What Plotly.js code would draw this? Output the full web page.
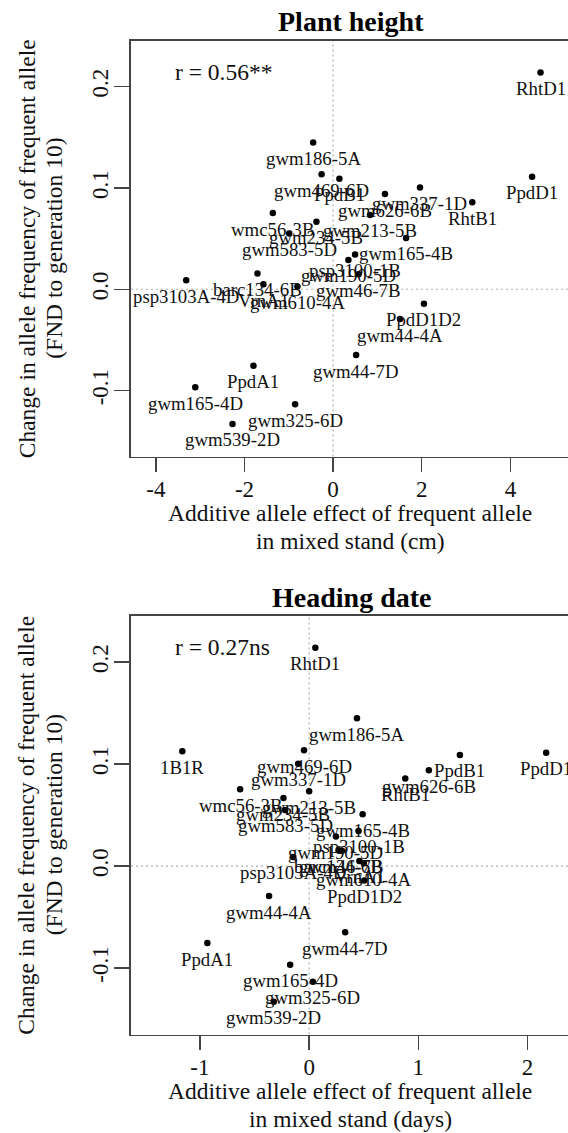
<!DOCTYPE html>
<html>
<head>
<meta charset="utf-8">
<script src="https://cdn.plot.ly/plotly-3.0.1.min.js"></script>
<style>
html,body{margin:0;padding:0;background:#fff;overflow:hidden;}
#chart{width:568px;height:1133px;}
</style>
</head>
<body>
<div id="chart"></div>
<script>
// ---- data ----
const markers = ["RhtD1","gwm186-5A","gwm469-6D","PpdB1","gwm337-1D","PpdD1","gwm626-6B","RhtB1",
  "wmc56-3B","gwm213-5B","gwm234-5B","gwm583-5D","gwm165-4B","psp3100-1B","gwm190-5D","gwm46-7B",
  "barc134-6B","psp3103A-4D","VrnA1","gwm610-4A","PpdD1D2","gwm44-4A","gwm44-7D","PpdA1",
  "gwm165-4D","gwm325-6D","gwm539-2D","1B1R"];
// change in allele frequency of frequent allele (FND to generation 10)
const freqChange = [0.214,0.145,0.1135,0.109,0.1004,0.111,0.094,0.0858,
  0.0752,0.0734,0.0667,0.055,0.0507,0.0344,0.029,0.0149,
  0.0156,0.0089,0.005,0.0028,-0.0142,-0.0294,-0.0649,-0.0755,
  -0.0968,-0.1135,-0.133,0.1126];
// additive allele effect in mixed stand: plant height (cm); 1B1R not shown
const heightEffect = [4.68,-0.45,-0.26,0.142,1.96,4.49,1.17,3.14,
  -1.36,0.834,-0.376,-0.99,1.646,0.496,0.345,0.57,
  -1.707,-3.315,-1.572,-0.805,2.05,1.51,0.52,-1.797,
  -3.11,-0.857,-2.27,null];
// additive allele effect in mixed stand: heading date (days)
const headingEffect = [0.057,0.438,-0.047,1.38,-0.10,2.17,1.096,0.88,
  -0.632,0.0,-0.235,-0.22,0.49,0.452,0.245,0.30,
  0.27,-0.145,0.46,0.50,0.505,-0.367,0.33,-0.932,
  -0.174,0.034,-0.324,-1.161];
const heightTicks = [-4,-2,0,2,4];
const headingTicks = [-1,0,1,2];
const yTicks = [-0.1,0.0,0.1,0.2];
const yTickText = ["-0.1","0.0","0.1","0.2"];
const panelTitles = ["Plant height","Heading date"];
const rTexts = ["r = 0.56**","r = 0.27ns"];
const xTitles = [["Additive allele effect of frequent allele","in mixed stand (cm)"],
                 ["Additive allele effect of frequent allele","in mixed stand (days)"]];
const yTitle = ["Change in allele frequency of frequent allele","(FND to generation 10)"];

// ---- layout helpers ----
const W = 568, H = 1133, L = 131;
const PW = W - L;
const px2x = p => (p - L) / PW;
const px2y = p => 1 - p / H;
const FONT = '"Liberation Serif","Times New Roman",Times,serif';
const INK = '#111';
const LINE = '#444';

const panels = [
  {xa:'x', ya:'y', xk:'xaxis', yk:'yaxis', xs:heightEffect, top:40.9, bot:456.6,
   xr:[-4.56,5.30], ticks:heightTicks},
  {xa:'x2', ya:'y2', xk:'xaxis2', yk:'yaxis2', xs:headingEffect, top:616, bot:1034.5,
   xr:[-1.631,2.370], ticks:headingTicks}
];

const traces = [];
const annotations = [];
const shapes = [];
const layout = {
  width:W, height:H,
  margin:{l:L, r:0, t:0, b:0, pad:0},
  paper_bgcolor:'#fff', plot_bgcolor:'#fff',
  showlegend:false,
  font:{family:FONT, color:INK, size:23},
};

panels.forEach((p, k) => {
  const xs = [], ys = [], labs = [];
  markers.forEach((m, i) => {
    if (p.xs[i] === null) return;
    xs.push(p.xs[i]); ys.push(freqChange[i]); labs.push(m);
  });
  traces.push({type:'scatter', mode:'markers', x:xs, y:ys, xaxis:p.xa, yaxis:p.ya,
    marker:{color:'#000', size:6.5}, hoverinfo:'skip', cliponaxis:false});
  labs.forEach((t, i) => annotations.push({x:xs[i], y:ys[i], xref:p.xa, yref:p.ya, text:t,
    showarrow:false, yshift:-16, font:{family:FONT, size:18.8, color:INK}}));

  layout[p.xk] = {domain:[0,1], anchor:p.ya, range:p.xr, tickvals:p.ticks,
    ticktext:p.ticks.map(String), showgrid:false, zeroline:false, showline:true, mirror:true,
    linecolor:LINE, linewidth:1.6, ticks:'outside', ticklen:14, tickwidth:1.4, tickcolor:LINE,
    ticklabelstandoff:-3,
    tickfont:{family:FONT, size:23, color:INK}, fixedrange:true};
  layout[p.yk] = {domain:[px2y(p.bot), px2y(p.top)], anchor:p.xa, range:[-0.1652,0.2452],
    tickvals:yTicks, ticktext:yTickText, tickangle:-90, showgrid:false, zeroline:false,
    showline:true, mirror:false, linecolor:LINE, linewidth:1.6, ticks:'outside', ticklen:15,
    ticklabelstandoff:-3,
    tickwidth:1.4, tickcolor:LINE, tickfont:{family:FONT, size:23, color:INK}, fixedrange:true};

  shapes.push({type:'line', xref:p.xa, yref:p.ya+' domain', x0:0, x1:0, y0:0, y1:1,
    line:{color:'#b0b0b0', width:1.2, dash:'2px,3px'}, layer:'below'});
  shapes.push({type:'line', xref:p.xa+' domain', yref:p.ya, x0:0, x1:1, y0:0, y1:0,
    line:{color:'#b0b0b0', width:1.2, dash:'2px,3px'}, layer:'below'});

  // panel title
  annotations.push({xref:'paper', yref:'paper', x:px2x(351), y:px2y(p.top-19), text:'<b>'+panelTitles[k]+'</b>',
    showarrow:false, xanchor:'center', yanchor:'middle', font:{family:FONT, size:28, color:'#000'}});
  // r text
  annotations.push({xref:'paper', yref:'paper', x:px2x(172.7), y:px2y(p.top+30.8), text:rTexts[k],
    showarrow:false, xanchor:'left', yanchor:'middle', font:{family:FONT, size:23.5, color:INK}});
  // x titles
  annotations.push({xref:'paper', yref:'paper', x:px2x(350), y:px2y(p.bot+56), text:xTitles[k][0],
    showarrow:false, xanchor:'center', yanchor:'middle', font:{family:FONT, size:23.5, color:INK}});
  annotations.push({xref:'paper', yref:'paper', x:px2x(350), y:px2y(p.bot+84.5), text:xTitles[k][1],
    showarrow:false, xanchor:'center', yanchor:'middle', font:{family:FONT, size:23.5, color:INK}});
  // y titles
  const yc = (p.top + p.bot) / 2;
  annotations.push({xref:'paper', yref:'paper', x:px2x(26.5), y:px2y(yc), text:yTitle[0], textangle:-90,
    showarrow:false, xanchor:'center', yanchor:'middle', font:{family:FONT, size:23.5, color:INK}});
  annotations.push({xref:'paper', yref:'paper', x:px2x(54), y:px2y(yc), text:yTitle[1], textangle:-90,
    showarrow:false, xanchor:'center', yanchor:'middle', font:{family:FONT, size:23.5, color:INK}});
});

layout.annotations = annotations;
layout.shapes = shapes;

Plotly.newPlot('chart', traces, layout, {staticPlot:true, displayModeBar:false});
</script>
</body>
</html>
